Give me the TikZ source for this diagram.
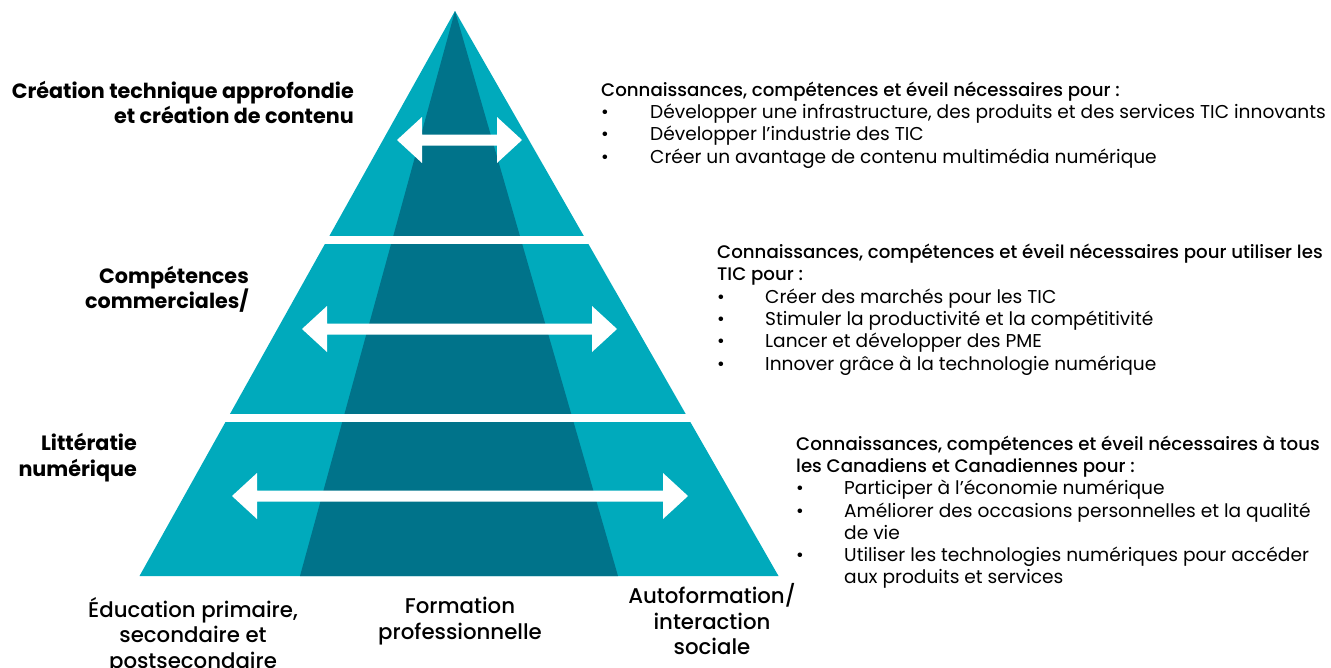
\documentclass[tikz,border=0pt]{standalone}
\usepackage{fontspec}
\setmainfont{Poppins}
\newfontfamily\medfont{Poppins Medium}
\definecolor{tealL}{RGB}{0,170,188}
\definecolor{tealD}{RGB}{0,115,138}
\newcommand\widearrow[3]{% y, left tip, right tip
  \fill[white] (#2,#1) -- ++(25,-23) -- ++(0,17.5) -- (#3-25,#1-5.5) -- ++(0,-17.5)
    -- (#3,#1) -- (#3-25,#1+23) -- ++(0,-17.5) -- (#2+25,#1+5.5) -- ++(0,17.5) -- cycle;}
\newcommand\hd[1]{{\medfont\fontsize{18.2}{22.3}\selectfont #1}}
\begin{document}
\begin{tikzpicture}[x=1pt,y=-1pt,
  lvl/.style={anchor=north east,inner sep=0pt,align=right,font=\fontsize{20.7}{25.3}\selectfont\bfseries},
  foot/.style={anchor=north,inner sep=0pt,align=center,font=\fontsize{21.3}{25.5}\selectfont\medfont},
  info/.style={anchor=north west,inner sep=0pt,align=left,font=\fontsize{18.6}{22.3}\selectfont}]
\useasboundingbox (0,0) rectangle (1331,667);
% pyramid: light body, dark central band, white separators
\coordinate (apex) at (455,11);
\coordinate (bl) at (139.5,576);
\coordinate (br) at (778.5,576);
\fill[tealL] (apex) -- (br) -- (bl) -- cycle;
\fill[tealD] (apex) -- (618,576) -- (300,576) -- cycle;
\fill[white] (100,236) rectangle (820,244);
\fill[white] (100,413.5) rectangle (820,421.5);
% horizontal double arrows
\widearrow{140}{397}{522}
\widearrow{329}{302}{617}
\widearrow{496}{232}{688}
% level labels
\node[lvl] (l1) at (354,81) {Création technique approfondie\\et création de contenu};
\node[lvl] (l2) at (249,266) {Compétences\\commerciales/};
\node[lvl] (l3) at (137,433.5) {Littératie\\numérique};
% bottom labels
\node[foot] (f1) at (193,597) {Éducation primaire,\\secondaire et\\postsecondaire};
\node[foot] (f2) at (460,597) {Formation\\professionnelle};
\node[foot] (f3) at (712,583.5) {Autoformation/\\interaction\\sociale};
% descriptions
\node[info] (d1) at (601,81.5) {\hd{Connaissances, compétences et éveil nécessaires pour :}\\
\makebox[49pt][l]{•}Développer une infrastructure, des produits et des services TIC innovants\\
\makebox[49pt][l]{•}Développer l’industrie des TIC\\
\makebox[49pt][l]{•}Créer un avantage de contenu multimédia numérique};
\node[info] (d2) at (717,244) {\hd{Connaissances, compétences et éveil nécessaires pour utiliser les}\\
\hd{TIC pour :}\\
\makebox[48pt][l]{•}Créer des marchés pour les TIC\\
\makebox[48pt][l]{•}Stimuler la productivité et la compétitivité\\
\makebox[48pt][l]{•}Lancer et développer des PME\\
\makebox[48pt][l]{•}Innover grâce à la technologie numérique};
\node[info] (d3) at (796,435.5) {\hd{Connaissances, compétences et éveil nécessaires à tous}\\
\hd{les Canadiens et Canadiennes pour :}\\
\makebox[48pt][l]{•}Participer à l’économie numérique\\
\makebox[48pt][l]{•}Améliorer des occasions personnelles et la qualité\\
\hspace*{48pt}de vie\\
\makebox[48pt][l]{•}Utiliser les technologies numériques pour accéder\\
\hspace*{48pt}aux produits et services};
\end{tikzpicture}
\end{document}
